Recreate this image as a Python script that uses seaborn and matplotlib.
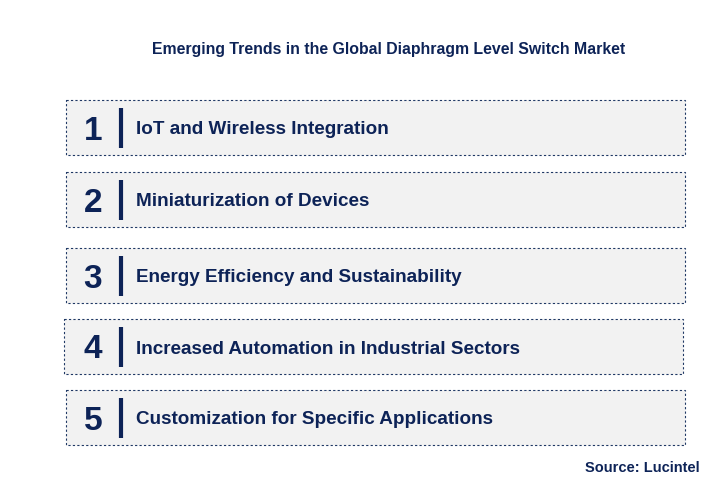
import matplotlib
matplotlib.use("Agg")
import matplotlib.pyplot as plt
from matplotlib.patches import Rectangle
import seaborn as sns

sns.set_theme(style="white")

title = "Emerging Trends in the Global Diaphragm Level Switch Market"
numbers = ["1", "2", "3", "4", "5"]
trends = ["IoT and Wireless Integration", "Miniaturization of Devices",
          "Energy Efficiency and Sustainability",
          "Increased Automation in Industrial Sectors",
          "Customization for Specific Applications"]
source = "Source: Lucintel"

box_top = [100, 172, 248, 319, 390]
box_left = [66, 66, 66, 64, 66]
navy = "#0d2357"

fig = plt.figure(figsize=(7.12, 5.01), dpi=100)
ax = fig.add_axes([0, 0, 1, 1])
ax.set_xlim(0, 712)
ax.set_ylim(501, 0)
ax.axis("off")

ax.text(389, 49, title, ha="center", va="center", fontsize=11.4, fontweight="bold",
        color=navy, family="Liberation Sans")
for n, t, y, x in zip(numbers, trends, box_top, box_left):
    ax.add_patch(Rectangle((x, y), 619, 55, facecolor="#f2f2f2", edgecolor="#1f3864",
                           linestyle=(0, (2, 2)), linewidth=0.8))
    ax.text(93, y + 31, n, ha="center", va="center", fontsize=24, fontweight="bold",
            color=navy, family="Liberation Sans")
    ax.plot([121, 121], [y + 8, y + 48], color=navy, lw=3, solid_capstyle="butt")
    ax.text(136, y + 30, t, ha="left", va="center", fontsize=13.6, fontweight="bold",
            color=navy, family="Liberation Sans")
ax.text(700, 468, source, ha="right", va="center", fontsize=10.5, fontweight="bold",
        color=navy, family="Liberation Sans")

fig.savefig("out.png", dpi=100, facecolor="white")
